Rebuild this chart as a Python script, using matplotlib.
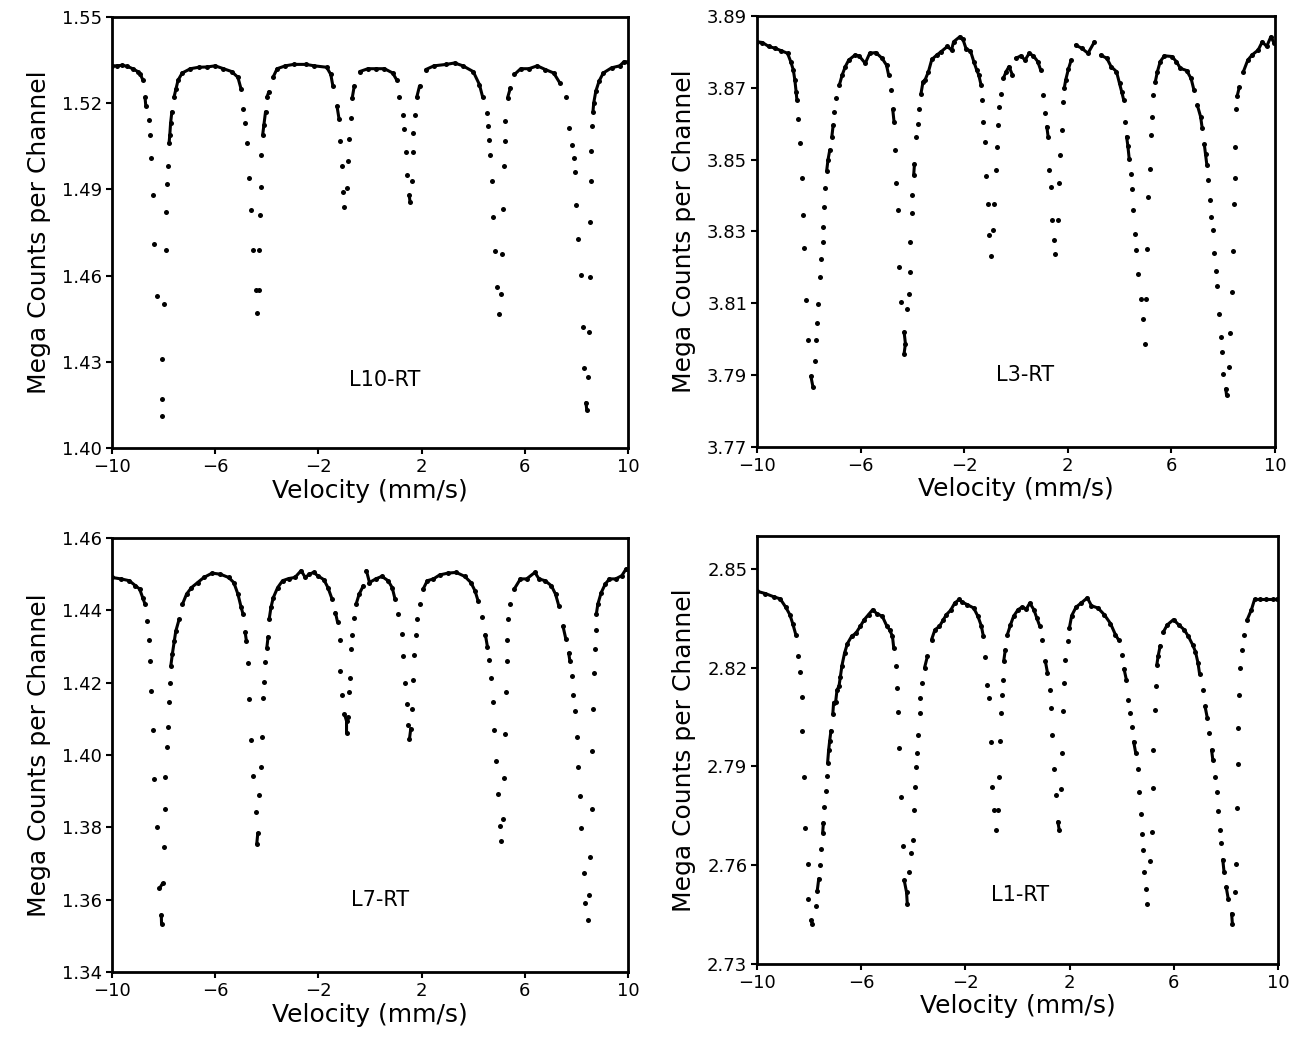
import numpy as np
import matplotlib
matplotlib.use("Agg")
import matplotlib.pyplot as plt

# velocity (mm/s) and counts (mega counts per channel)

l10_vel = [-10.0, -9.8, -9.6, -9.4, -9.2, -9.0, -8.9, -8.8, -8.72, -8.69, -8.56, -8.53, -8.48, -8.43, -8.37, -8.27,
           -8.08, -8.08, -8.08, -7.97, -7.92, -7.89, -7.87, -7.84, -7.79, -7.76, -7.73, -7.68, -7.6, -7.52, -7.44,
           -7.28, -6.96, -6.64, -6.32, -6.0, -5.68, -5.36, -5.12, -5.0,
           -4.91, -4.85, -4.75, -4.69, -4.61, -4.53, -4.43, -4.37, -4.32, -4.29, -4.27, -4.24, -4.21, -4.16, -4.11,
           -4.05, -4.0, -3.92, -3.76, -3.6, -3.28, -2.96, -2.48, -2.16, -1.68, -1.52,
           -1.44, -1.28, -1.2, -1.15, -1.1, -1.04, -0.99, -0.91, -0.85, -0.8, -0.75, -0.69, -0.61,
           -0.4, -0.08, 0.24, 0.56, 0.88, 1.04,
           1.12, 1.28, 1.33, 1.39, 1.44, 1.52, 1.55, 1.62, 1.65, 1.68, 1.73, 1.81, 1.92,
           2.16, 2.48, 2.96, 3.28, 3.6, 4.0, 4.24,
           4.37, 4.53, 4.56, 4.61, 4.66, 4.72, 4.77, 4.85, 4.93, 4.99, 5.07, 5.12, 5.17, 5.2, 5.23, 5.25, 5.33, 5.44,
           5.6, 5.84, 6.16, 6.48, 6.8, 7.12, 7.36, 7.6,
           7.73, 7.84, 7.89, 7.95, 8.0, 8.08, 8.16, 8.24, 8.29, 8.37, 8.4, 8.43, 8.48, 8.51, 8.53, 8.56, 8.58, 8.61,
           8.64, 8.67, 8.75, 8.88, 9.04, 9.36, 9.68, 9.84, 10.0]
l10_counts = [1.533, 1.533, 1.5332, 1.5328, 1.532, 1.531, 1.530, 1.528, 1.522, 1.519, 1.514, 1.509, 1.501, 1.488,
              1.471, 1.453, 1.431, 1.417, 1.411, 1.450, 1.469, 1.482, 1.492, 1.498, 1.506, 1.509, 1.513, 1.517,
              1.522, 1.525, 1.528, 1.5305, 1.532, 1.5325, 1.5326, 1.533, 1.532, 1.531, 1.529, 1.525,
              1.518, 1.513, 1.506, 1.494, 1.483, 1.469, 1.455, 1.447, 1.455, 1.469, 1.481, 1.491, 1.502, 1.509,
              1.5125, 1.517, 1.522, 1.524, 1.529, 1.532, 1.533, 1.5335, 1.5335, 1.533, 1.5325, 1.530,
              1.526, 1.519, 1.5145, 1.507, 1.498, 1.489, 1.484, 1.4906, 1.500, 1.5076, 1.5148, 1.5218, 1.526,
              1.531, 1.532, 1.532, 1.532, 1.5305, 1.528,
              1.522, 1.516, 1.511, 1.503, 1.495, 1.488, 1.4857, 1.493, 1.503, 1.5096, 1.516, 1.522, 1.526,
              1.5317, 1.533, 1.5335, 1.534, 1.533, 1.531, 1.5265,
              1.522, 1.5166, 1.512, 1.5072, 1.502, 1.493, 1.4805, 1.4686, 1.4562, 1.4467, 1.4537, 1.4676, 1.4831,
              1.498, 1.5069, 1.5137, 1.5218, 1.5253,
              1.530, 1.532, 1.532, 1.533, 1.5317, 1.5305, 1.527, 1.522,
              1.5113, 1.5055, 1.501, 1.496, 1.4845, 1.4729, 1.4601, 1.442, 1.4278, 1.4158, 1.4133, 1.4246, 1.4405,
              1.4595, 1.4787, 1.4929, 1.5032, 1.5119, 1.5169, 1.520, 1.5241, 1.5277, 1.5305, 1.5323, 1.533,
              1.5344, 1.5344]

l3_vel = [-10.0, -9.79, -9.55, -9.3, -9.06, -8.82, -8.7, -8.6, -8.54,
          -8.49, -8.46, -8.41, -8.35, -8.28, -8.22, -8.17, -8.12, -8.05, -7.92, -7.84,
          -7.76, -7.71, -7.68, -7.63, -7.55, -7.52, -7.47, -7.44, -7.4, -7.36, -7.31, -7.26, -7.19, -7.11, -7.06,
          -7.01, -6.95, -6.82, -6.71, -6.59, -6.46, -6.22, -6.06, -5.82, -5.65, -5.41, -5.17, -5.0, -4.92,
          -4.84, -4.76, -4.71, -4.68, -4.63, -4.57, -4.52, -4.44, -4.32, -4.27, -4.32,
          -4.19, -4.14, -4.11, -4.08, -4.03, -4.0, -3.95, -3.92, -3.87, -3.79, -3.74, -3.67, -3.59, -3.51, -3.38,
          -3.25, -3.06, -2.9, -2.65, -2.49, -2.41, -2.17, -2.05, -1.92, -1.76, -1.63, -1.52, -1.44,
          -1.35, -1.31, -1.27, -1.19, -1.14, -1.08, -1.03, -0.95,
          -0.87, -0.84, -0.79, -0.74, -0.71, -0.66, -0.58, -0.49, -0.38, -0.27, -0.14, -0.01, 0.19, 0.35, 0.51,
          0.67, 0.84, 0.95,
          1.03, 1.13, 1.19, 1.24, 1.29, 1.35, 1.4, 1.45, 1.52,
          1.61, 1.65, 1.7, 1.76, 1.81, 1.86, 1.92, 2.02, 2.13, 2.3, 2.54, 2.78, 3.03, 3.27, 3.51, 3.67, 3.88,
          4.0, 4.08,
          4.16, 4.21, 4.27, 4.32, 4.37, 4.44, 4.48, 4.53, 4.6, 4.65, 4.73, 4.81, 4.89, 4.97,
          5.02, 5.05, 5.1, 5.18, 5.21, 5.26, 5.3, 5.38, 5.46, 5.57, 5.73, 6.02, 6.19, 6.35, 6.59, 6.76, 6.87,
          7.0, 7.13, 7.19, 7.27, 7.32, 7.37, 7.42, 7.49, 7.54, 7.6, 7.65, 7.73, 7.78, 7.84, 7.91, 7.97, 8.0,
          8.1, 8.13,
          8.22, 8.26, 8.33, 8.38, 8.41, 8.46, 8.46, 8.51, 8.54, 8.62, 8.78, 8.95, 9.11, 9.35, 9.51, 9.68, 9.84,
          9.97]
l3_counts = [3.8828, 3.8826, 3.8815, 3.881, 3.8803, 3.8796, 3.8773, 3.875, 3.8722,
             3.8689, 3.8666, 3.8612, 3.8545, 3.8448, 3.8345, 3.8253, 3.8109, 3.7997, 3.7897, 3.7867,
             3.794, 3.7997, 3.8045, 3.8099, 3.8172, 3.8222, 3.8271, 3.8311, 3.8367, 3.842, 3.8469, 3.8499,
             3.8527, 3.8564, 3.8596, 3.8633, 3.8671, 3.8708, 3.8736, 3.8759, 3.8777, 3.8791, 3.8789, 3.8768,
             3.8796, 3.8798, 3.8782, 3.8763, 3.8736,
             3.8694, 3.864, 3.8606, 3.8527, 3.8435, 3.8359, 3.8201, 3.8104, 3.802, 3.7988, 3.796,
             3.8085, 3.8125, 3.8187, 3.8271, 3.8352, 3.8401, 3.8457, 3.8488, 3.8562, 3.8599, 3.864, 3.8683,
             3.8717, 3.8722, 3.8745, 3.8779, 3.8791, 3.88, 3.8815, 3.8805, 3.8828, 3.8842, 3.8835, 3.8807,
             3.8803, 3.8773, 3.875, 3.8736,
             3.8708, 3.8666, 3.8606, 3.855, 3.8455, 3.8376, 3.829, 3.8231,
             3.8304, 3.8376, 3.8471, 3.8536, 3.8596, 3.8647, 3.8684, 3.8726, 3.8745, 3.8759, 3.8736, 3.8782,
             3.8789, 3.8777, 3.8796, 3.8789, 3.8773, 3.875,
             3.868, 3.8629, 3.8592, 3.8564, 3.8471, 3.8424, 3.8333, 3.8276, 3.8237,
             3.8331, 3.8434, 3.8513, 3.8582, 3.8661, 3.8698, 3.8722, 3.8751, 3.8777, 3.8819, 3.881, 3.8796,
             3.8828, 3.8791, 3.8782, 3.8759, 3.8745, 3.8712, 3.8689,
             3.8666, 3.8606, 3.8564, 3.8538, 3.8503, 3.846, 3.8417, 3.8361, 3.8294, 3.8248, 3.8181, 3.8113,
             3.8057, 3.7988,
             3.8113, 3.825, 3.8397, 3.8473, 3.8568, 3.8619, 3.868, 3.8717, 3.8745, 3.8773, 3.8789, 3.8787,
             3.8773, 3.8754, 3.8748, 3.8726, 3.8694,
             3.8652, 3.8619, 3.8587, 3.8543, 3.8515, 3.8485, 3.8443, 3.8387, 3.8341, 3.8304, 3.824, 3.8191,
             3.8148, 3.8071, 3.8006, 3.7965, 3.7904, 3.7862, 3.7844,
             3.7923, 3.8017, 3.8132, 3.8246, 3.8376, 3.845, 3.8536, 3.864, 3.8677, 3.8701, 3.8745, 3.8777,
             3.8791, 3.8805, 3.8828, 3.8815, 3.8842, 3.8824]

l7_vel = [-10.0, -9.65, -9.33, -9.09, -8.93, -8.81, -8.72,
          -8.65, -8.56, -8.52, -8.48, -8.41, -8.36, -8.25, -8.16, -8.04, -8.09, -8.08,
          -8.0, -7.95, -7.93, -7.88, -7.83, -7.8, -7.75, -7.72, -7.66, -7.59, -7.53, -7.4, -7.27, -7.11, -6.92,
          -6.68, -6.44, -6.12, -5.8, -5.48, -5.28, -5.12, -5.0, -4.92,
          -4.84, -4.79, -4.74, -4.68, -4.6, -4.52, -4.43, -4.35, -4.39,
          -4.31, -4.24, -4.19, -4.16, -4.11, -4.07, -4.0, -3.95, -3.91, -3.84, -3.75, -3.58, -3.39, -3.15, -2.91,
          -2.67, -2.51, -2.35, -2.19, -2.03, -1.79, -1.63, -1.47,
          -1.34, -1.26, -1.18, -1.15, -1.07, -0.99, -0.91, -0.91,
          -0.86, -0.83, -0.78, -0.75, -0.7, -0.63, -0.54, -0.42, -0.26, -0.14, -0.02, 0.22, 0.46, 0.7, 0.86,
          0.97,
          1.1, 1.23, 1.29, 1.34, 1.42, 1.47, 1.53,
          1.58, 1.63, 1.66, 1.71, 1.77, 1.82, 1.93, 2.06, 2.22, 2.46, 2.7, 3.02, 3.34, 3.67, 3.91, 4.07, 4.19,
          4.34, 4.47, 4.55, 4.63, 4.68, 4.76, 4.82, 4.87, 4.95, 5.03, 5.08,
          5.14, 5.19, 5.24, 5.27, 5.3, 5.32, 5.35, 5.43, 5.59, 5.83, 6.07, 6.39, 6.55, 6.79, 7.03, 7.19, 7.32,
          7.48, 7.59, 7.7, 7.75, 7.83, 7.88, 7.95, 8.03, 8.08, 8.12, 8.19, 8.28, 8.35, 8.43,
          8.48, 8.51, 8.59, 8.6, 8.63, 8.67, 8.71, 8.74, 8.77, 8.83, 8.96, 9.12, 9.28, 9.52, 9.76, 9.92]
l7_counts = [1.4491, 1.4487, 1.4482, 1.4468, 1.4459, 1.4435, 1.4417,
             1.437, 1.4317, 1.4259, 1.4178, 1.407, 1.3935, 1.38, 1.3631, 1.3645, 1.3558, 1.3533,
             1.3747, 1.3852, 1.394, 1.4023, 1.4077, 1.4147, 1.4198, 1.4247, 1.428, 1.4314, 1.4342, 1.4375,
             1.4417, 1.4445, 1.4463, 1.4477, 1.4491, 1.4503, 1.45, 1.4491, 1.4477, 1.4445, 1.441, 1.4389,
             1.434, 1.4315, 1.4254, 1.4156, 1.4042, 1.3942, 1.3843, 1.3784, 1.3754,
             1.389, 1.3968, 1.4049, 1.4159, 1.4203, 1.4256, 1.4296, 1.4327, 1.4375, 1.4408, 1.4435, 1.4463,
             1.4482, 1.4488, 1.4491, 1.451, 1.4491, 1.45, 1.4505, 1.4496, 1.4485, 1.4463, 1.4431,
             1.4394, 1.4368, 1.4319, 1.4231, 1.4166, 1.4113, 1.4094, 1.4061,
             1.4105, 1.4175, 1.4212, 1.4293, 1.4333, 1.438, 1.4417, 1.4445, 1.4468, 1.451, 1.4477, 1.4487,
             1.4494, 1.4482, 1.4463, 1.4431,
             1.4389, 1.4336, 1.4273, 1.42, 1.4142, 1.4082, 1.4045,
             1.4073, 1.4128, 1.4208, 1.4277, 1.4333, 1.4375, 1.4417, 1.4459, 1.4482, 1.4487, 1.4498, 1.4503,
             1.4505, 1.4494, 1.4477, 1.4454, 1.4426,
             1.4382, 1.4333, 1.43, 1.4263, 1.4212, 1.4147, 1.4068, 1.3984, 1.3891, 1.3803, 1.3763,
             1.3822, 1.3936, 1.4059, 1.4175, 1.4259, 1.4317, 1.4375, 1.4417, 1.4459, 1.4487, 1.4487, 1.4505,
             1.4487, 1.4482, 1.4468, 1.4445, 1.4412,
             1.4356, 1.4321, 1.4282, 1.4259, 1.4219, 1.4166, 1.4122, 1.4051, 1.3966, 1.3887, 1.3798, 1.3673,
             1.3592, 1.3545,
             1.3612, 1.3719, 1.3852, 1.4012, 1.4126, 1.4228, 1.4293, 1.4347, 1.4389, 1.4417, 1.4449, 1.4473,
             1.4487, 1.4487, 1.4496, 1.4514]

l1_vel = [-10.0, -9.68, -9.35, -9.11, -8.9, -8.74, -8.63,
          -8.51, -8.42, -8.35, -8.29, -8.26, -8.19, -8.14, -8.06, -8.03, -7.93, -7.87,
          -7.74, -7.69, -7.63, -7.58, -7.53, -7.48, -7.45, -7.42, -7.37, -7.33, -7.29, -7.25, -7.21, -7.16,
          -7.09, -7.06, -6.98, -6.93, -6.85, -6.8, -6.74, -6.64, -6.53, -6.37, -6.2, -6.04, -5.88, -5.72, -5.56,
          -5.4, -5.19, -5.02, -4.91,
          -4.8, -4.75, -4.67, -4.64, -4.59, -4.54, -4.47, -4.38, -4.35, -4.26, -4.23,
          -4.15, -4.07, -4.02, -3.97, -3.93, -3.89, -3.86, -3.81, -3.76, -3.73, -3.67, -3.57, -3.46, -3.3, -3.17,
          -3.0, -2.86, -2.73, -2.57, -2.41, -2.24, -2.12, -1.92, -1.68, -1.52, -1.39,
          -1.31, -1.24, -1.16, -1.11, -1.03, -0.99, -0.92, -0.82,
          -0.76, -0.71, -0.68, -0.65, -0.6, -0.57, -0.53, -0.47, -0.39, -0.27, -0.15, 0.02, 0.18, 0.34, 0.47,
          0.63, 0.74, 0.86,
          0.95, 1.07, 1.15, 1.23, 1.28, 1.34, 1.39, 1.47, 1.55, 1.6,
          1.66, 1.71, 1.76, 1.79, 1.84, 1.92, 1.99, 2.08, 2.25, 2.44, 2.68, 2.84, 3.09, 3.33, 3.57, 3.76, 3.89,
          4.02, 4.09, 4.18, 4.25, 4.33, 4.38, 4.46, 4.54, 4.62, 4.67, 4.73, 4.78, 4.83, 4.86, 4.94, 4.99,
          5.1, 5.15, 5.19, 5.22, 5.27, 5.3, 5.35, 5.4, 5.48, 5.59, 5.75, 5.99, 6.19, 6.4, 6.56, 6.72, 6.83,
          6.93, 6.99, 7.12, 7.2, 7.29, 7.37, 7.45, 7.5, 7.58, 7.64, 7.71, 7.77, 7.82, 7.88, 7.93, 8.01, 8.09,
          8.22, 8.25,
          8.34, 8.38, 8.42, 8.45, 8.47, 8.5, 8.55, 8.61, 8.71, 8.82, 8.98, 9.1, 9.31, 9.55, 9.79, 9.95]
l1_counts = [2.8432, 2.8425, 2.8415, 2.8409, 2.8384, 2.8361, 2.8334,
             2.83, 2.8236, 2.8188, 2.8112, 2.8009, 2.7867, 2.7714, 2.7603, 2.7498, 2.7432, 2.7422,
             2.7475, 2.7521, 2.7559, 2.76, 2.765, 2.7698, 2.7729, 2.7777, 2.7826, 2.7871, 2.7911, 2.795, 2.7978,
             2.8009, 2.8059, 2.8094, 2.8097, 2.8131, 2.8145, 2.8173, 2.8206, 2.8244, 2.8273, 2.8295, 2.8305,
             2.8325, 2.8346, 2.8361, 2.8376, 2.8364, 2.8356, 2.8327, 2.8315,
             2.8295, 2.8259, 2.8204, 2.8138, 2.8064, 2.7955, 2.7808, 2.7658, 2.7554, 2.7518, 2.7481,
             2.7579, 2.7637, 2.7678, 2.7767, 2.7836, 2.7899, 2.7942, 2.7996, 2.8062, 2.8107, 2.8153, 2.8199,
             2.8234, 2.8285, 2.8315, 2.8325, 2.8344, 2.8361, 2.8374, 2.8396, 2.8407, 2.8399, 2.8391, 2.8381,
             2.8356, 2.8327,
             2.8295, 2.8232, 2.8148, 2.8107, 2.7975, 2.7838, 2.7769, 2.7706,
             2.7769, 2.7869, 2.7978, 2.8062, 2.8117, 2.8163, 2.8219, 2.8254, 2.83, 2.833, 2.8356, 2.8376,
             2.8384, 2.8378, 2.8396, 2.8376, 2.8351, 2.8325,
             2.8285, 2.8219, 2.8185, 2.8131, 2.8077, 2.7996, 2.7891, 2.7813, 2.7732, 2.7708,
             2.7831, 2.7941, 2.8067, 2.8153, 2.8224, 2.828, 2.832, 2.8358, 2.8384, 2.8396, 2.8412, 2.8388,
             2.8381, 2.8361, 2.8334, 2.83, 2.8283,
             2.8239, 2.8196, 2.8163, 2.8102, 2.8062, 2.8021, 2.7975, 2.794, 2.7891, 2.7823, 2.7755, 2.7694,
             2.7645, 2.7579, 2.7529, 2.7483,
             2.7613, 2.7701, 2.7833, 2.795, 2.807, 2.8145, 2.8209, 2.8236, 2.8267, 2.8307, 2.833, 2.8346,
             2.833, 2.8315, 2.8295, 2.827, 2.8249,
             2.8214, 2.8181, 2.8131, 2.8082, 2.8046, 2.8001, 2.795, 2.7919, 2.7869, 2.7823, 2.7765, 2.7708,
             2.7666, 2.7617, 2.7579, 2.7534, 2.7498, 2.7453, 2.7422,
             2.7518, 2.7605, 2.7775, 2.7907, 2.8016, 2.8117, 2.8199, 2.8254, 2.83, 2.8346, 2.8376, 2.8407,
             2.8407, 2.8407, 2.8407, 2.8407]

panels = [
    # name, vel, counts, ylim, yticks, axes rect, label position
    ("L10-RT", l10_vel, l10_counts, (1.40, 1.55), [1.40, 1.43, 1.46, 1.49, 1.52, 1.55],
     [0.0857, 0.5725, 0.3948, 0.4113], (0.58, 1.4237)),
    ("L3-RT", l3_vel, l3_counts, (3.77, 3.89), [3.77, 3.79, 3.81, 3.83, 3.85, 3.87, 3.89],
     [0.5792, 0.5735, 0.3963, 0.4113], (0.35, 3.7900)),
    ("L7-RT", l7_vel, l7_counts, (1.34, 1.46), [1.34, 1.36, 1.38, 1.40, 1.42, 1.44, 1.46],
     [0.0857, 0.0725, 0.3948, 0.4141], (0.39, 1.3599)),
    ("L1-RT", l1_vel, l1_counts, (2.73, 2.86), [2.73, 2.76, 2.79, 2.82, 2.85],
     [0.5792, 0.0802, 0.3986, 0.4084], (0.1, 2.7510)),
]

fig = plt.figure(figsize=(13.07, 10.48), dpi=100)

for name, vel, counts, ylim, yticks, rect, lab in panels:
    ax = fig.add_axes(rect)
    v = np.array(vel)
    c = np.array(counts)
    span = ylim[1] - ylim[0]

    # the dense flat parts of the scan look like a thick line, so join close neighbours
    lx, ly = [v[0]], [c[0]]
    for i in range(1, len(v)):
        if abs(c[i] - c[i - 1]) / span > 0.03 or abs(v[i] - v[i - 1]) > 0.6:
            lx.append(np.nan)
            ly.append(np.nan)
        lx.append(v[i])
        ly.append(c[i])
    ax.plot(lx, ly, color='black', linewidth=2.2, solid_capstyle='round')
    ax.plot(v, c, 'o', color='black', markersize=3.6, markeredgewidth=0)

    ax.set_xlim(-10, 10)
    ax.set_ylim(*ylim)
    ax.set_xticks([-10, -6, -2, 2, 6, 10])
    ax.set_yticks(yticks)
    ax.set_yticklabels(['%.2f' % t for t in yticks])
    ax.tick_params(direction='out', length=4, width=1.5, labelsize=13, pad=3,
                   top=False, right=False)
    for s in ax.spines.values():
        s.set_linewidth(2.0)
    ax.set_xlabel("Velocity (mm/s)", fontsize=18, labelpad=2)
    ax.set_ylabel("Mega Counts per Channel", fontsize=18, labelpad=8)
    ax.text(lab[0], lab[1], name, fontsize=15, ha='center', va='center')

fig.savefig("out.png", dpi=100)
